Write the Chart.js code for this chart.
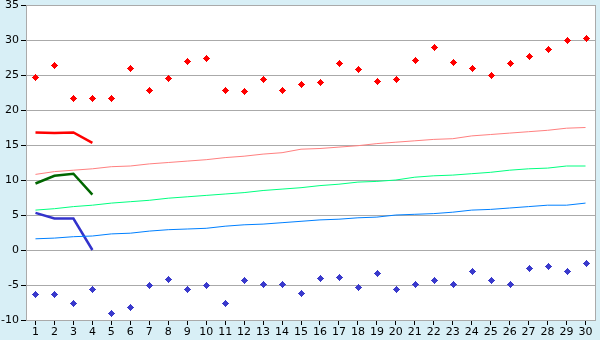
<!DOCTYPE html>
<html>
<head>
<meta charset="utf-8">
<script src="https://cdn.jsdelivr.net/npm/chart.js@4/dist/chart.umd.min.js"></script>
<style>
html,body{margin:0;padding:0;background:#d8eff6;}
#wrap{width:600px;height:340px;}
</style>
</head>
<body>
<div id="wrap"><canvas id="c" width="600" height="340"></canvas></div>
<script>
const categories = ['1','2','3','4','5','6','7','8','9','10','11','12','13','14','15','16','17','18','19','20','21','22','23','24','25','26','27','28','29','30'];
const yTicks = [-10,-5,0,5,10,15,20,25,30,35];

const highPoints = [24.7,26.4,21.7,21.7,21.7,26.0,22.8,24.5,27.0,27.4,22.8,22.7,24.4,22.8,23.7,24.0,26.7,25.8,24.2,24.4,27.2,29.0,26.8,26.0,25.0,26.7,27.7,28.7,30.0,30.3];
const lowPoints = [-6.3,-6.3,-7.6,-5.6,-9.0,-8.2,-5.0,-4.2,-5.5,-5.0,-7.6,-4.3,-4.9,-4.8,-6.1,-4.0,-3.9,-5.3,-3.3,-5.6,-4.9,-4.3,-4.9,-3.0,-4.3,-4.8,-2.5,-2.3,-3.0,-1.9];

const redTrend = [10.8,11.2,11.4,11.6,11.9,12.0,12.3,12.5,12.7,12.9,13.2,13.4,13.7,13.9,14.4,14.5,14.7,14.9,15.2,15.4,15.6,15.8,15.9,16.3,16.5,16.7,16.9,17.1,17.4,17.5];
const greenTrend = [5.7,5.9,6.2,6.4,6.7,6.9,7.1,7.4,7.6,7.8,8.0,8.2,8.5,8.7,8.9,9.2,9.4,9.7,9.8,10.0,10.4,10.6,10.7,10.9,11.1,11.4,11.6,11.7,12.0,12.0];
const blueTrend = [1.6,1.7,1.9,2.0,2.3,2.4,2.7,2.9,3.0,3.1,3.4,3.6,3.7,3.9,4.1,4.3,4.4,4.6,4.7,5.0,5.1,5.2,5.4,5.7,5.8,6.0,6.2,6.4,6.4,6.7];

const redRecent = [16.8,16.7,16.8,15.3];
const greenRecent = [9.5,10.6,10.9,7.9];
const blueRecent = [5.3,4.5,4.5,0.0];

function pad(arr){ const out = arr.slice(); while(out.length < categories.length) out.push(null); return out; }

const bgPlugin = {
  id:'bg',
  beforeDraw(chart){
    const ctx = chart.ctx, a = chart.chartArea;
    ctx.save();
    ctx.fillStyle = '#d8eff6';
    ctx.fillRect(0,0,chart.width,chart.height);
    ctx.fillStyle = '#ffffff';
    ctx.fillRect(a.left,a.top,a.right-a.left,a.bottom-a.top);
    ctx.restore();
  },
  afterDatasetsDraw(chart){
    const ctx = chart.ctx;
    ctx.save();
    chart.data.datasets.forEach((ds,i)=>{
      if(!ds.markerColor) return;
      const meta = chart.getDatasetMeta(i);
      ctx.fillStyle = ds.markerColor;
      meta.data.forEach(el=>{
        if(el.skip) return;
        const x = Math.round(el.x), y = Math.round(el.y);
        ctx.fillRect(x-1,y-2,3,5);
        ctx.fillRect(x-2,y-1,5,3);
        ctx.fillRect(x,y-3,1,7);
        ctx.fillRect(x-3,y,7,1);
      });
    });
    ctx.restore();
  },
  afterDraw(chart){
    const ctx = chart.ctx, a = chart.chartArea;
    ctx.save();
    ctx.strokeStyle = '#aaaaaa';
    ctx.lineWidth = 1;
    ctx.beginPath();
    ctx.moveTo(Math.round(a.right)+0.5, a.top);
    ctx.lineTo(Math.round(a.right)+0.5, a.bottom);
    ctx.stroke();
    ctx.restore();
  }
};

const lineDs = (data,color,w) => ({type:'line',data:data,borderColor:color,backgroundColor:color,borderWidth:w,pointRadius:0,pointHoverRadius:0,tension:0,fill:false,spanGaps:false});
const ptDs = (data,color) => ({type:'line',data:data,showLine:false,markerColor:color,pointRadius:0,pointHoverRadius:0,borderWidth:0});

new Chart(document.getElementById('c'),{
  type:'line',
  data:{
    labels:categories,
    datasets:[
      lineDs(redTrend,'#ff8080',1),
      lineDs(greenTrend,'#00ff80',1),
      lineDs(blueTrend,'#0080ff',1),
      lineDs(pad(redRecent),'#ff0000',2.5),
      lineDs(pad(greenRecent),'#006600',2.5),
      lineDs(pad(blueRecent),'#3333cc',2.5),
      ptDs(highPoints,'#ff0000'),
      ptDs(lowPoints,'#3a3acc')
    ]
  },
  options:{
    responsive:false,
    animation:false,
    events:[],
    layout:{padding:{top:5,right:5,left:0,bottom:0}},
    plugins:{legend:{display:false},tooltip:{enabled:false}},
    scales:{
      x:{
        offset:true,
        grid:{drawOnChartArea:false,tickLength:5,tickColor:'#000000',offset:false},
        border:{color:'#aaaaaa'},
        ticks:{color:'#000000',font:{family:'DejaVu Sans',size:11},padding:1,maxRotation:0,autoSkip:false},
        afterFit(s){ s.height = 20; s.paddingLeft = 0; s.paddingRight = 0; }
      },
      y:{
        min:-10,max:35,
        grid:{color:'#aaaaaa',tickLength:5,tickColor:'#000000'},
        border:{color:'#aaaaaa'},
        afterBuildTicks(s){ s.ticks = yTicks.map(v=>({value:v})); },
        ticks:{color:'#000000',font:{family:'DejaVu Sans',size:11},padding:2},
        afterFit(s){ s.width = 26; s.paddingTop = 0; s.paddingBottom = 0; }
      }
    }
  },
  plugins:[bgPlugin]
});
</script>
</body>
</html>
